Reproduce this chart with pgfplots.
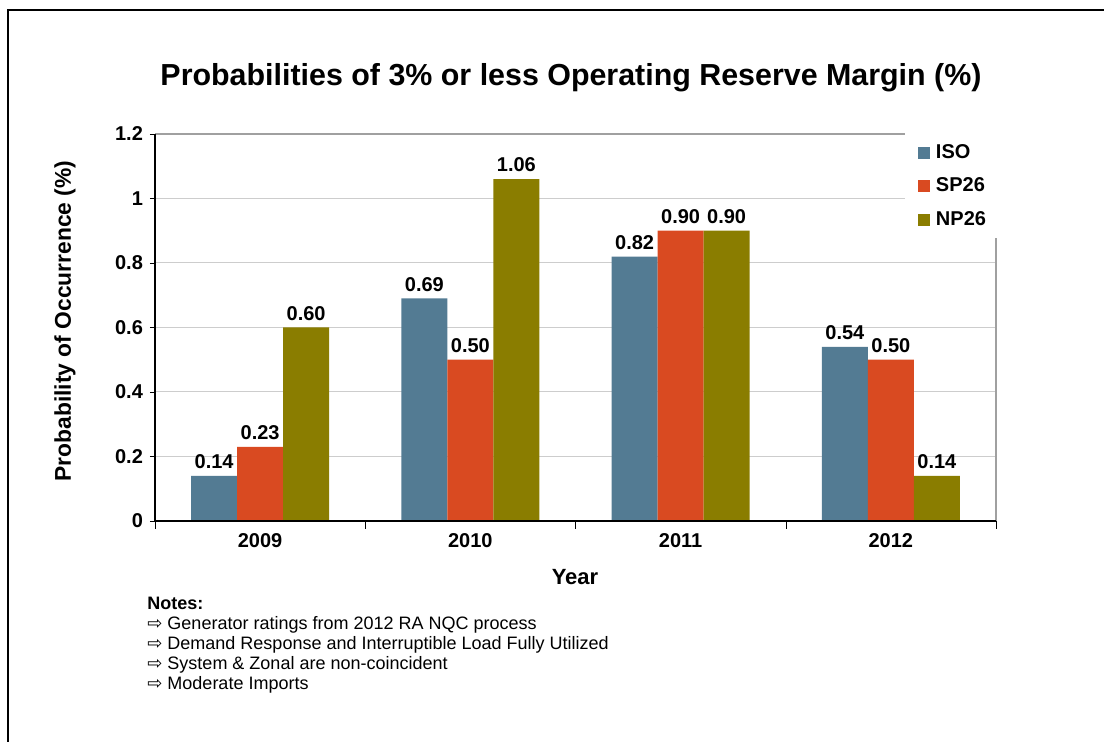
\documentclass[border=0pt]{standalone}
\usepackage{pgfplots}
\pgfplotsset{compat=1.18}
\usepackage{fontspec}
\setmainfont{Liberation Sans}
\newfontfamily\dejavu{DejaVu Sans}
\definecolor{isoc}{RGB}{83,123,147}
\definecolor{spc}{RGB}{217,74,33}
\definecolor{npc}{RGB}{138,125,0}
\definecolor{gridc}{RGB}{205,205,205}
\definecolor{topc}{RGB}{160,160,160}
\begin{document}
\begin{tikzpicture}
\useasboundingbox (0,0) rectangle (552pt,371pt);
\draw[black, line width=0.6pt] (4pt,-2pt) -- (4pt,366pt) -- (556pt,366pt);
\node[font=\fontsize{15.2}{17}\selectfont\bfseries] at (285.5pt,332pt) {Probabilities of 3\% or less Operating Reserve Margin (\%)};
\node[rotate=90, font=\fontsize{11.4}{13}\selectfont\bfseries] at (32.5pt,210.5pt) {Probability of Occurrence (\%)};
\node[font=\fontsize{11}{13}\selectfont\bfseries] at (287.5pt,82.5pt) {Year};
\node[anchor=north west, align=left, inner sep=0pt, font=\fontsize{9}{10}\selectfont] at (73.5pt,72.5pt)
{\textbf{Notes:}\\
{\dejavu ⇨} Generator ratings from 2012 RA NQC process\\
{\dejavu ⇨} Demand Response and Interruptible Load Fully Utilized\\
{\dejavu ⇨} System \& Zonal are non-coincident\\
{\dejavu ⇨} Moderate Imports};
\begin{axis}[
  at={(77.5pt,110.5pt)}, anchor=south west,
  scale only axis, width=420.5pt, height=193.5pt,
  xmin=-0.5, xmax=3.5, ymin=0, ymax=1.2,
  ybar=0pt, bar width=23pt,
  /pgf/number format/assume math mode=true,
  ytick={0,0.2,0.4,0.6,0.8,1,1.2},
  yticklabels={0,0.2,0.4,0.6,0.8,1,1.2},
  xtick={0,1,2,3},
  xticklabels={2009,2010,2011,2012},
  xtick style={draw=none},
  extra x ticks={-0.5,0.5,1.5,2.5,3.5},
  extra x tick labels={},
  extra x tick style={xtick style={draw=black}, tick align=outside, major tick length=4pt},
  ytick style={draw=black},
  tick pos=left,
  tick align=outside, major tick length=2.5pt,
  tick label style={font=\fontsize{10}{12}\selectfont\bfseries},
  ymajorgrids, grid style={gridc, line width=0.5pt},
  axis line style={draw=none},
  nodes near coords={\pgfmathprintnumber[fixed,zerofill,precision=2,assume math mode=true]{\pgfplotspointmeta}},
  every node near coord/.append style={font=\fontsize{10}{12}\selectfont\bfseries, black},
  legend style={at={(rel axis cs:0.892,1)}, anchor=north west, draw=none, fill=white,
    font=\fontsize{10}{12}\selectfont\bfseries, row sep=4.2pt, column sep=2pt, inner xsep=6pt, inner ysep=3pt,
    nodes={inner xsep=1.2pt, inner ysep=2pt}, cells={anchor=west}},
  legend cell align=left,
  legend image code/.code={\fill[#1] (0pt,-3pt) rectangle (6pt,3pt);},
  clip=false,
]
\fill[white] (rel axis cs:0.892,1.003) rectangle (rel axis cs:1.002,0.747);
\addplot[fill=isoc, draw=none] coordinates {(0,0.14) (1,0.69) (2,0.82) (3,0.54)};
\addplot[fill=spc, draw=none] coordinates {(0,0.23) (1,0.50) (2,0.90) (3,0.50)};
\addplot[fill=npc, draw=none] coordinates {(0,0.60) (1,1.06) (2,0.90) (3,0.14)};
\legend{ISO,SP26,NP26}
\draw[topc, line width=0.6pt] (rel axis cs:0,1) -- (rel axis cs:0.892,1);
\draw[topc, line width=0.6pt] (rel axis cs:1,0) -- (rel axis cs:1,0.747);
\draw[black, line width=0.6pt] (rel axis cs:0,0) -- (rel axis cs:1,0);
\draw[black, line width=0.6pt] (rel axis cs:0,0) -- (rel axis cs:0,1);
\end{axis}
\end{tikzpicture}
\end{document}
